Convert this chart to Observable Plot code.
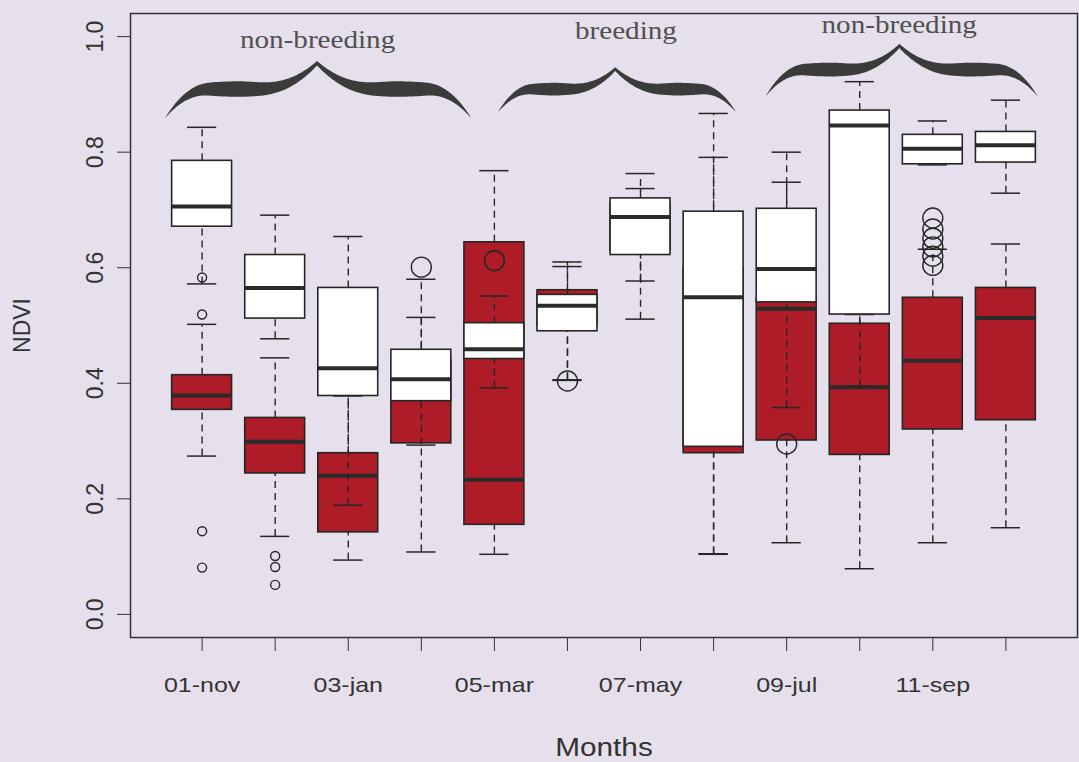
<!DOCTYPE html>
<html>
<head>
<meta charset="utf-8">
<script src="https://cdn.jsdelivr.net/npm/d3@7"></script>
<script src="https://cdn.jsdelivr.net/npm/@observablehq/plot@0.6"></script>
<style>
  html, body { margin: 0; padding: 0; background: #e6e0ec; }
  svg { display: block; }
</style>
</head>
<body>
<script>
// ---- data ----
const monthLabels = ["01-nov","02-dec","03-jan","04-feb","05-mar","06-apr","07-may","08-jun","09-jul","10-aug","11-sep","12-oct"];
const monthIndex = [1,2,3,4,5,6,7,8,9,10,11,12];

// white series: [lower whisker, Q1, median, Q3, upper whisker]
const whiteLo  = [0.572, 0.477, 0.189, 0.293, 0.392, 0.406, 0.511, 0.104, 0.358, 0.395, 0.778, 0.729];
const whiteQ1  = [0.671, 0.512, 0.378, 0.369, 0.442, 0.490, 0.622, 0.290, 0.540, 0.519, 0.779, 0.782];
const whiteMed = [0.706, 0.565, 0.426, 0.407, 0.459, 0.534, 0.688, 0.549, 0.598, 0.846, 0.806, 0.812];
const whiteQ3  = [0.785, 0.622, 0.565, 0.458, 0.504, 0.553, 0.720, 0.697, 0.702, 0.872, 0.830, 0.835];
const whiteHi  = [0.843, 0.691, 0.654, 0.580, 0.551, 0.602, 0.763, 0.867, 0.800, 0.922, 0.854, 0.890];

// red series
const redLo  = [0.274, 0.135, 0.094, 0.108, 0.104, 0.405, 0.577, 0.105, 0.124, 0.079, 0.124, 0.150];
const redQ1  = [0.354, 0.244, 0.142, 0.296, 0.155, 0.500, 0.630, 0.279, 0.301, 0.276, 0.320, 0.336];
const redMed = [0.379, 0.299, 0.240, 0.400, 0.233, 0.530, 0.670, 0.420, 0.529, 0.393, 0.439, 0.513];
const redQ3  = [0.414, 0.340, 0.279, 0.440, 0.644, 0.561, 0.710, 0.600, 0.545, 0.503, 0.548, 0.565];
const redHi  = [0.502, 0.444, 0.378, 0.514, 0.768, 0.610, 0.737, 0.791, 0.748, 0.519, 0.632, 0.641];

// outliers: [month, value]
const redOutliers = [[1,0.583],[1,0.519],[1,0.144],[1,0.081],[2,0.101],[2,0.082],[2,0.051]];
const whiteOutliers = [[4,0.601],[5,0.612],[6,0.404],[9,0.295],[11,0.686],[11,0.667],[11,0.651],[11,0.636],[11,0.620],[11,0.604]];

const yTicks = [0, 0.2, 0.4, 0.6, 0.8, 1.0];

// period annotations (braces)
const periodLabels = ["non-breeding", "breeding", "non-breeding"];
const periodStart  = [0.50, 5.06, 8.72];
const periodCusp   = [2.58, 6.66, 10.55];
const periodEnd    = [4.69, 8.31, 12.44];
const periodTipY   = [0.858, 0.869, 0.896];
const periodCuspY  = [0.953, 0.943, 0.983];
const periodThick  = [0.027, 0.022, 0.024];
const periodLabelX = [2.58, 6.80, 10.54];
const periodLabelY = [0.981, 0.996, 1.007];

// ---- build tables ----
const white = monthIndex.map((m, i) => ({m, lo: whiteLo[i], q1: whiteQ1[i], med: whiteMed[i], q3: whiteQ3[i], hi: whiteHi[i]}));
const red = monthIndex.map((m, i) => ({m, lo: redLo[i], q1: redQ1[i], med: redMed[i], q3: redQ3[i], hi: redHi[i]}));
const redOut = redOutliers.map(([m, v]) => ({m, v}));
const whiteOut = whiteOutliers.map(([m, v]) => ({m, v}));

const boxHalf = 0.41, capHalf = 0.2;
const ink = "#262626";
const redFill = "#ae1d27";

// curly-brace outline, in data coordinates
function braceShape(k) {
  const x1 = periodStart[k], xc = periodCusp[k], x2 = periodEnd[k];
  const yTip = periodTipY[k], yC = periodCuspY[k], thick = periodThick[k];
  const pts = [];
  const N = 90;
  const xs = [];
  for (let i = 0; i <= N; i++) xs.push(x1 + (xc - x1) * i / N);
  for (let i = 1; i <= N; i++) xs.push(xc + (x2 - xc) * i / N);
  for (const x of xs) {
    const u = x <= xc ? (x - x1) / (xc - x1) : (x2 - x) / (x2 - xc);
    const rise = 0.53 * (1 - Math.pow(1 - Math.min(u / 0.3, 1), 2.2)) + 0.47 * Math.pow(Math.max(0, (u - 0.6) / 0.4), 2.3);
    const yc = yTip + (yC - yTip) * rise;
    const prof = u <= 0.5 ? Math.pow(Math.sin(u / 0.5 * Math.PI / 2), 0.8) : 1 - 0.7 * Math.pow((u - 0.5) / 0.5, 1.2);
    const t = thick * prof;
    pts.push({id: k, x, y1: yc - t / 2, y2: yc + t / 2});
  }
  return pts;
}
const braceData = [0, 1, 2].flatMap(braceShape);
const periods = periodLabels.map((label, i) => ({label, x: periodLabelX[i], y: periodLabelY[i]}));

function boxMarks(data, fill, outliers, r) {
  return [
    Plot.ruleX(data, {x: "m", y1: "q3", y2: "hi", stroke: ink, strokeWidth: 1.4, strokeDasharray: "7,5"}),
    Plot.ruleX(data, {x: "m", y1: "lo", y2: "q1", stroke: ink, strokeWidth: 1.4, strokeDasharray: "7,5"}),
    Plot.ruleY(data, {y: "hi", x1: d => d.m - capHalf, x2: d => d.m + capHalf, stroke: ink, strokeWidth: 1.5}),
    Plot.ruleY(data, {y: "lo", x1: d => d.m - capHalf, x2: d => d.m + capHalf, stroke: ink, strokeWidth: 1.5}),
    Plot.rect(data, {x1: d => d.m - boxHalf, x2: d => d.m + boxHalf, y1: "q1", y2: "q3", fill, stroke: ink, strokeWidth: 1.6}),
    Plot.ruleY(data, {y: "med", x1: d => d.m - boxHalf, x2: d => d.m + boxHalf, stroke: "#2b2b2b", strokeWidth: 4}),
    Plot.dot(outliers, {x: "m", y: "v", r, stroke: ink, strokeWidth: 1.4, fill: "none"})
  ];
}

const chart = Plot.plot({
  width: 1079,
  height: 762,
  marginLeft: 130,
  marginRight: 2,
  marginTop: 13,
  marginBottom: 125,
  style: {background: "#e6e0ec", fontFamily: "'Liberation Sans', Arial, sans-serif", color: "#333"},
  x: {type: "linear", domain: [0.02, 12.98]},
  y: {domain: [-0.04, 1.04]},
  marks: [
    ...boxMarks(red, redFill, redOut, 4.5),
    ...boxMarks(white, "white", whiteOut, 10),
    Plot.frame({stroke: "#333", strokeWidth: 1.5}),
    Plot.axisX(monthIndex, {
      tickSize: 14, tickPadding: 26, fontSize: 21, stroke: "#333", fill: "#333",
      tickFormat: (d) => (d % 2 === 1 ? monthLabels[d - 1] : "")
    }),
    Plot.axisY(yTicks, {tickSize: 13, tickFormat: () => "", stroke: "#333"}),
    Plot.text(yTicks, {y: d => d, text: d => d.toFixed(1), frameAnchor: "left", dx: -35, rotate: -90, textAnchor: "middle", lineAnchor: "middle", fontSize: 23, fill: "#333"}),
    Plot.text(["NDVI"], {y: 0.5, frameAnchor: "left", dx: -108, rotate: -90, textAnchor: "middle", lineAnchor: "middle", fontSize: 23, fill: "#333"}),
    Plot.text(["Months"], {x: 6.5, frameAnchor: "bottom", dy: 110, textAnchor: "middle", lineAnchor: "middle", fontSize: 25, fill: "#333"}),
    Plot.area(braceData, {x1: "x", y1: "y1", y2: "y2", z: "id", fill: "#3b3b3b", curve: "linear"}),
    Plot.text(periods, {x: "x", y: "y", text: "label", fontSize: 24.5, fontFamily: "'Liberation Serif', 'Times New Roman', serif", fill: "#505050", lineAnchor: "bottom"})
  ]
});

document.body.appendChild(chart);

// horizontal stretch of the scanned horizontal text (glyph stretch about the anchor)
const stretchSet = new Set([...monthLabels, ...periodLabels, "Months"]);
d3.select(chart).selectAll("text").each(function() {
  if (!stretchSet.has(this.textContent)) return;
  const tr = this.getAttribute("transform");
  if (tr) {
    this.setAttribute("transform", tr + " scale(1.19,1)");
  } else {
    const x = +this.getAttribute("x") || 0, y = +this.getAttribute("y") || 0;
    this.setAttribute("transform", `translate(${x},${y}) scale(1.19,1) translate(${-x},${-y})`);
  }
});
</script>
</body>
</html>
